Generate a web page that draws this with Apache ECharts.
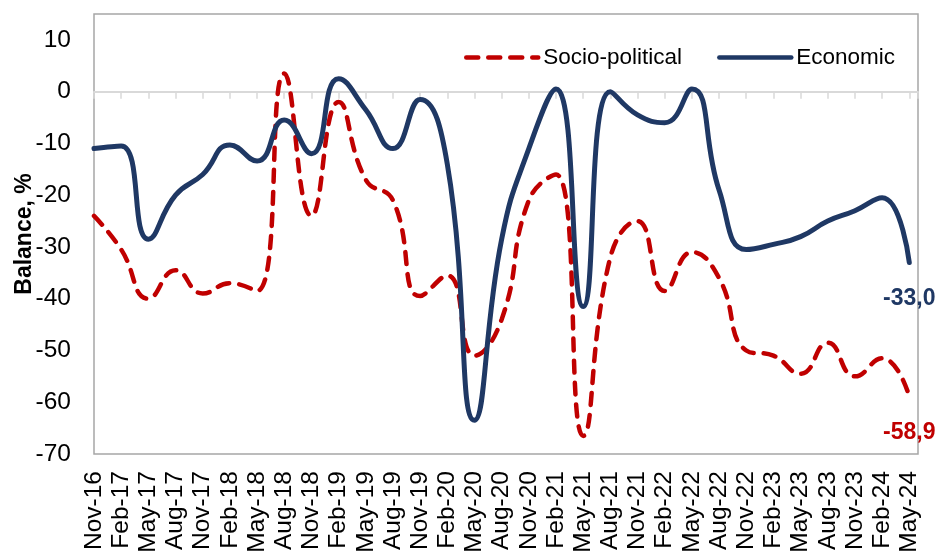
<!DOCTYPE html>
<html>
<head>
<meta charset="utf-8">
<script src="https://cdn.jsdelivr.net/npm/echarts@6/dist/echarts.min.js"></script>
<style>
html,body{margin:0;padding:0;background:#fff;}
#chart{width:942px;height:551px;}
</style>
</head>
<body>
<div id="chart"></div>
<script>
const categories = ['Nov-16','Feb-17','May-17','Aug-17','Nov-17','Feb-18','May-18','Aug-18','Nov-18','Feb-19','May-19','Aug-19','Nov-19','Feb-20','May-20','Aug-20','Nov-20','Feb-21','May-21','Aug-21','Nov-21','Feb-22','May-22','Aug-22','Nov-22','Feb-23','May-23','Aug-23','Nov-23','Feb-24','May-24'];
const socioPolitical = [-24, -30.5, -40, -34.5, -39, -37, -38.5, 3.5, -24, -2, -17, -21, -39.5, -35.5, -51, -44, -21, -16, -66.5, -32, -25, -38.5, -31, -36, -50, -51, -54.5, -48.5, -55, -51.5, -58.9];
const economic = [-11, -10.5, -28.5, -20, -16, -10.3, -13.4, -5.5, -12, 2.5, -3.5, -11, -1.5, -14, -63.5, -28.5, -11, 0.5, -41.5, 0, -4.5, -6, 0.5, -19, -30.5, -29.5, -28, -25, -23, -20.5, -33.0];
const yTicks = [-70, -60, -50, -40, -30, -20, -10, 0, 10];

const FONT = "'Liberation Sans', Arial, sans-serif";
const RED = '#C00000';
const BLUE = '#1F3864';

function buildData(arr, color) {
  return arr.map(function (v, i) {
    if (i === arr.length - 1) {
      return {
        value: [i, v],
        symbol: 'circle', symbolSize: 2,
        itemStyle: {color: 'rgba(0,0,0,0)', borderWidth: 0},
        label: {
          show: true, position: 'bottom', distance: 24,
          color: color, fontWeight: 'bold', fontSize: 23, fontFamily: FONT,
          formatter: function (p) { return p.value[1].toFixed(1).replace('.', ','); }
        }
      };
    }
    return {value: [i, v], symbol: 'none'};
  });
}

const xMax = categories.length - 1 + 0.32;
const chart = echarts.init(document.getElementById('chart'), null, {renderer: 'canvas'});
chart.setOption({
  animation: false,
  backgroundColor: '#fff',
  grid: {
    left: 94, top: 14, right: 24, bottom: 97,
    show: true, borderColor: '#A6A6A6', borderWidth: 1.5,
    containLabel: false, outerBoundsMode: 'none'
  },
  legend: {
    left: 459, top: 41,
    itemWidth: 72, itemHeight: 14, itemGap: 35,
    itemStyle: {opacity: 0, color: 'rgba(0,0,0,0)', borderWidth: 0},
    lineStyle: {width: 4.5, cap: 'round'},
    textStyle: {fontSize: 22.5, fontFamily: FONT, color: '#000'},
    data: ['Socio-political', 'Economic']
  },
  xAxis: [
    {
      type: 'value', min: 0, max: xMax, interval: 1, position: 'bottom',
      axisLine: {show: false, onZero: false},
      axisTick: {show: false},
      splitLine: {show: false},
      axisLabel: {
        rotate: 90, margin: 17, fontSize: 24.5, fontFamily: FONT, color: '#000',
        showMaxLabel: false,
        formatter: function (v) { return Number.isInteger(v) && categories[v] ? categories[v] : ''; }
      }
    },
    {
      type: 'value', min: 0, max: xMax, interval: 1, position: 'bottom',
      axisLine: {show: true, onZero: true, lineStyle: {color: '#D9D9D9', width: 2}},
      axisTick: {show: true, length: 7, lineStyle: {color: '#D9D9D9', width: 1.5}},
      splitLine: {show: false},
      axisLabel: {show: false}
    }
  ],
  yAxis: {
    type: 'value', min: -70, max: 15, interval: 10,
    name: 'Balance, %', nameLocation: 'middle', nameGap: 58, nameRotate: 90,
    nameMoveOverlap: false,
    nameTextStyle: {fontSize: 23, fontWeight: 'bold', fontFamily: FONT, color: '#000'},
    axisLine: {show: false},
    axisTick: {show: false},
    splitLine: {show: false},
    axisLabel: {
      margin: 23, fontSize: 24.5, fontFamily: FONT, color: '#000',
      formatter: function (v) { return yTicks.indexOf(v) >= 0 ? String(v) : ''; }
    }
  },
  series: [
    {
      name: 'Socio-political', type: 'line', xAxisIndex: 0,
      smooth: 0.5, symbol: 'none', showSymbol: true,
      lineStyle: {color: RED, width: 4.5, type: [12, 10], cap: 'round'},
      itemStyle: {color: RED},
      data: buildData(socioPolitical, RED), z: 3
    },
    {
      name: 'Economic', type: 'line', xAxisIndex: 0,
      smooth: 0.5, symbol: 'none', showSymbol: true,
      lineStyle: {color: BLUE, width: 5, cap: 'round'},
      itemStyle: {color: BLUE},
      data: buildData(economic, BLUE), z: 4
    }
  ]
});
</script>
</body>
</html>
